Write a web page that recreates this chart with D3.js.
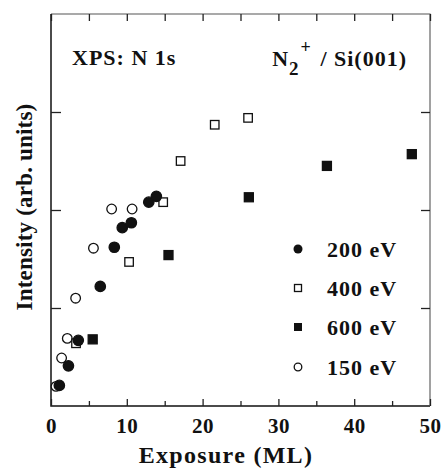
<!DOCTYPE html>
<html>
<head>
<meta charset="utf-8">
<script src="https://cdn.jsdelivr.net/npm/d3@7"></script>
<style>
  body { margin: 0; background: #fff; }
  svg text { font-family: "Liberation Serif", "DejaVu Serif", serif; font-weight: bold; fill: #111; }
</style>
</head>
<body>
<div class="chart"></div>
<script>
// exposure (ML) / intensity (arb. units)
const ev200 = [[1.1,0.21],[2.3,0.41],[3.6,0.67],[6.5,1.22],[8.35,1.62],[9.4,1.82],[10.6,1.87],[12.9,2.08],[13.9,2.14]]
const ev400 = [[3.3,0.64],[10.3,1.47],[14.8,2.08],[17.1,2.5],[21.6,2.87],[26.0,2.94]]
const ev600 = [[5.5,0.68],[15.5,1.54],[26.1,2.13],[36.4,2.45],[47.6,2.57]]
const ev150 = [[0.66,0.2],[1.4,0.49],[2.15,0.69],[3.25,1.1],[5.6,1.61],[8.0,2.01],[10.7,2.01]]
const legendLabels = ["200 eV","400 eV","600 eV","150 eV"]
const xTicks = [0,10,20,30,40,50]
const xMinor = [5,15,25,35,45]
const yTicks = [1,2,3]

const width = 442, height = 473
const padding = {left:51, right:12, top:14, bottom:67}

const svg = d3.select(".chart").append("svg").attr("width",width).attr("height",height)

const xScale = d3.scaleLinear().domain([0,50]).range([padding.left, width - padding.right])
const yScale = d3.scaleLinear().domain([0,4]).range([height - padding.bottom, padding.top])

// frame: left and bottom darker, top and right lighter like the scan
const x0 = xScale(0), x1 = xScale(50), y0 = yScale(0), y1 = yScale(4)
svg.append("path").attr("d", "M" + x0 + "," + y1 + "V" + y0 + "H" + x1)
    .attr("fill","none").attr("stroke","#111").attr("stroke-width",1.5)
svg.append("path").attr("d", "M" + x0 + "," + y1 + "H" + x1 + "V" + y0)
    .attr("fill","none").attr("stroke","#555").attr("stroke-width",1.1)

function styleAxis(g) {
    g.select(".domain").remove()
    g.selectAll(".tick line").attr("stroke","#222").attr("stroke-width",1.3)
}

// bottom axis, ticks pointing in
svg.append("g").attr("transform","translate(0," + y0 + ")")
    .call(d3.axisBottom(xScale).tickValues(xTicks).tickSize(-7).tickPadding(12))
    .call(styleAxis)
    .selectAll("text").attr("font-size",21).attr("dy","0.71em").attr("letter-spacing",0.5)
svg.append("g").attr("transform","translate(0," + y0 + ")")
    .call(d3.axisBottom(xScale).tickValues(xMinor).tickSize(-5).tickFormat(""))
    .call(styleAxis)
// top axis
svg.append("g").attr("transform","translate(0," + y1 + ")")
    .call(d3.axisTop(xScale).tickValues(xTicks.concat(xMinor)).tickSize(-7).tickFormat(""))
    .call(styleAxis)
// left / right
svg.append("g").attr("transform","translate(" + x0 + ",0)")
    .call(d3.axisLeft(yScale).tickValues(yTicks).tickSize(-10).tickFormat(""))
    .call(styleAxis)
svg.append("g").attr("transform","translate(" + x1 + ",0)")
    .call(d3.axisRight(yScale).tickValues(yTicks).tickSize(-9).tickFormat(""))
    .call(styleAxis)

// axis titles
svg.append("text").attr("x", 226).attr("y", 463)
    .attr("text-anchor","middle").attr("font-size",24).attr("letter-spacing",1.3).text("Exposure (ML)")
svg.append("text").attr("transform","translate(32,207) rotate(-90)")
    .attr("text-anchor","middle").attr("font-size",23).attr("letter-spacing",0.2).text("Intensity (arb. units)")

// annotations
svg.append("text").attr("x",72).attr("y",65).attr("font-size",22).attr("letter-spacing",1).text("XPS: N 1s")
const ann = svg.append("text").attr("x",407).attr("y",66).attr("font-size",22).attr("letter-spacing",1).attr("text-anchor","end")
ann.append("tspan").text("N")
ann.append("tspan").attr("font-size",19).attr("dy",9).text("2")
ann.append("tspan").attr("font-size",18).attr("dy",-22).attr("dx",1).text("+")
ann.append("tspan").attr("dy",13).attr("dx",2).text(" / Si(001)")

// markers
function drawCircles(data, fill, r) {
    svg.append("g").selectAll("circle").data(data).enter().append("circle")
        .attr("cx", d => xScale(d[0])).attr("cy", d => yScale(d[1])).attr("r", r)
        .attr("fill", fill).attr("stroke","#111").attr("stroke-width",1.3)
}
function drawSquares(data, fill, s) {
    svg.append("g").selectAll("rect").data(data).enter().append("rect")
        .attr("x", d => xScale(d[0]) - s/2).attr("y", d => yScale(d[1]) - s/2)
        .attr("width", s).attr("height", s)
        .attr("fill", fill).attr("stroke","#111").attr("stroke-width",1.3)
}
drawCircles(ev150, "#fff", 4.8)
drawSquares(ev400, "#fff", 8.5)
drawSquares(ev600, "#111", 9)
drawCircles(ev200, "#111", 5.2)

// legend
const lg = svg.append("g")
const ly = [249, 288, 327, 367]
legendLabels.forEach(function(lab, i) {
    const y = ly[i]
    if (i == 0) lg.append("circle").attr("cx",298).attr("cy",y).attr("r",4.5).attr("fill","#111")
    if (i == 1) lg.append("rect").attr("x",294.5).attr("y",y-3.5).attr("width",7).attr("height",7).attr("fill","#fff").attr("stroke","#111").attr("stroke-width",1.3)
    if (i == 2) lg.append("rect").attr("x",294).attr("y",y-4).attr("width",8).attr("height",8).attr("fill","#111")
    if (i == 3) lg.append("circle").attr("cx",298).attr("cy",y).attr("r",3.8).attr("fill","#fff").attr("stroke","#111").attr("stroke-width",1.3)
    lg.append("text").attr("x",327).attr("y",y+7.5).attr("font-size",22).attr("letter-spacing",1).text(lab)
})
</script>
</body>
</html>
